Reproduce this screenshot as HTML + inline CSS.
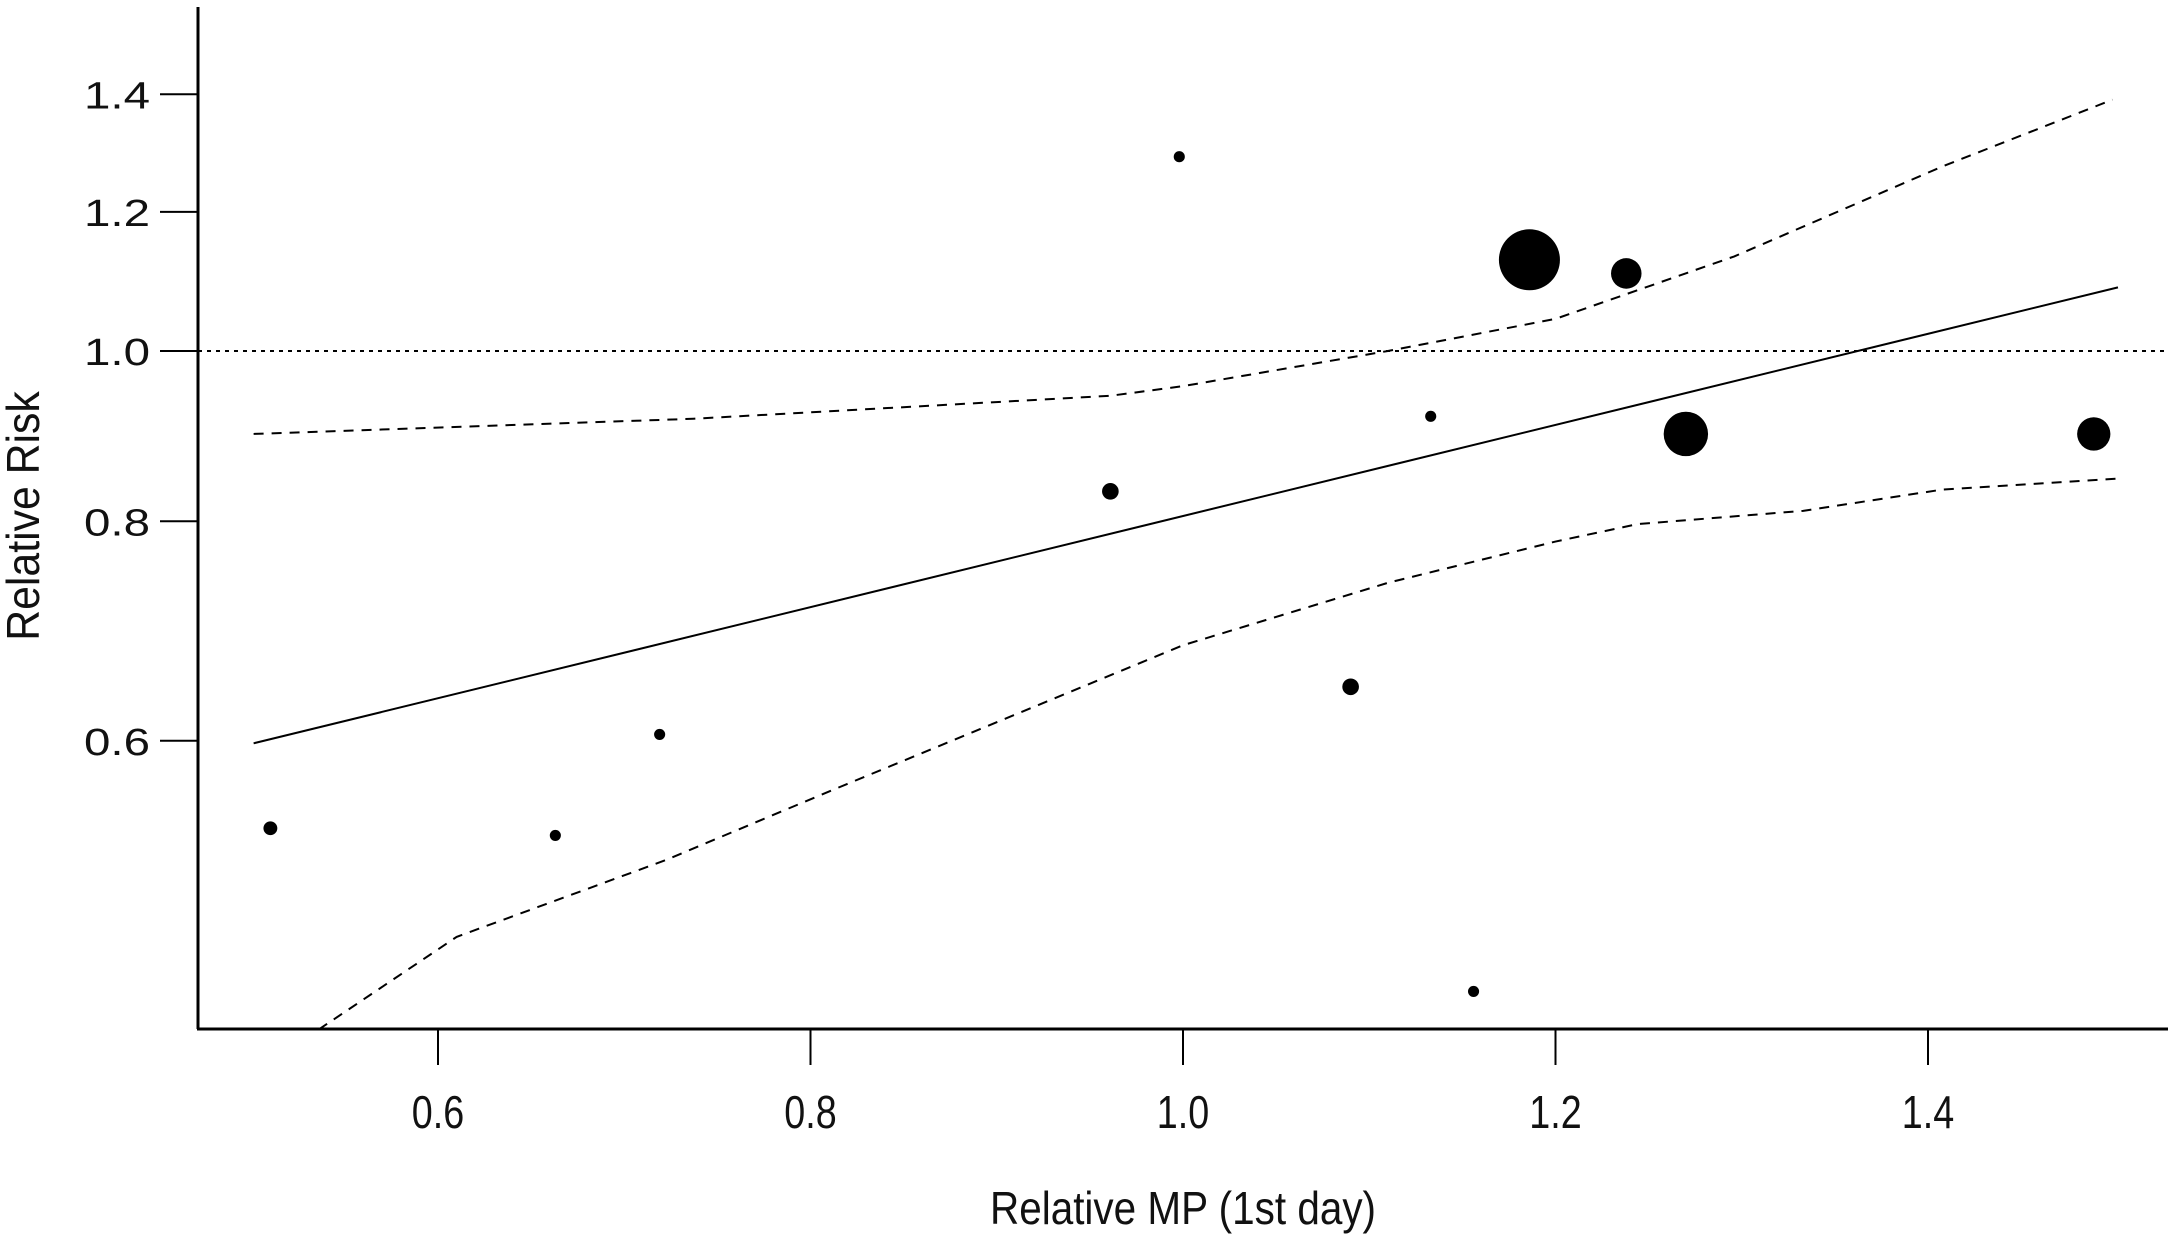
<!DOCTYPE html>
<html><head><meta charset="utf-8"><style>
html,body{margin:0;padding:0;background:#fff;}
svg{display:block;font-family:"Liberation Sans",Arial,sans-serif;}
</style></head><body>
<svg id="chart" width="2175" height="1234" viewBox="0 0 2175 1234">
<g id="axes"></g><g id="marks"></g>
<text x="0" y="0" font-size="46" text-anchor="middle" fill="#111" transform="translate(1183,1224) scale(0.88,1)">Relative MP (1st day)</text>
<text x="0" y="0" font-size="46" text-anchor="middle" fill="#111" transform="translate(39,516) rotate(-90) scale(0.93,1)">Relative Risk</text>
</svg>
<script>
const xTicks=[0.6,0.8,1.0,1.2,1.4];
const xTickLabels=["0.6","0.8","1.0","1.2","1.4"];
const yTicks=[0.6,0.8,1.0,1.2,1.4];
const yTickLabels=["0.6","0.8","1.0","1.2","1.4"];
const pointX=[0.510,0.663,0.719,0.961,0.998,1.090,1.133,1.156,1.186,1.238,1.270,1.489];
const pointY=[0.535,0.530,0.605,0.832,1.290,0.644,0.918,0.432,1.127,1.107,0.897,0.897];
const pointSize=[5,4,4,6,4,6,4,4,22,11,16,12];
const fitX=[0.501,1.502];
const fitY=[0.598,1.087];
const upperX=[0.501,0.737,0.961,1.000,1.110,1.200,1.296,1.408,1.499];
const upperY=[0.897,0.915,0.943,0.955,1.0,1.043,1.132,1.274,1.390];
const lowerX=[0.536,0.610,0.722,0.811,1.000,1.110,1.200,1.244,1.333,1.408,1.502];
const lowerY=[0.411,0.464,0.513,0.562,0.680,0.738,0.779,0.797,0.811,0.834,0.846];
const refY=[1.0];

const NS="http://www.w3.org/2000/svg";
const L=198,R=2168,T=7,B=1029;
function sx(v){return 1183+(v-1)*1862.5;}
function sy(v){return 351-Math.log(v)*763;}
function mk(tag,attrs,parent){const e=document.createElementNS(NS,tag);for(const k in attrs)e.setAttribute(k,attrs[k]);parent.appendChild(e);return e;}
const axes=document.getElementById('axes'),marks=document.getElementById('marks');
let e=mk('line',{x1:L,y1:T,x2:L,y2:B,stroke:'#000','stroke-width':3},axes);


e=mk('line',{x1:L-1,y1:B,x2:R,y2:B,stroke:'#000','stroke-width':3},axes);


xTicks.forEach((v,i)=>{
 const t=mk('line',{x1:sx(v),y1:B,x2:sx(v),y2:B+36,stroke:'#000','stroke-width':2},axes);
 
 
 const tx=mk('text',{x:0,y:0,'font-size':46,'text-anchor':'middle',fill:'#111',transform:`translate(${sx(v)},1128) scale(0.82,1)`},axes);
 tx.textContent=xTickLabels[i];
 
 
});
yTicks.forEach((v,i)=>{
 const t=mk('line',{x1:L-38,y1:sy(v),x2:L,y2:sy(v),stroke:'#000','stroke-width':2},axes);
 
 
 const tx=mk('text',{x:0,y:0,'font-size':38,'text-anchor':'end',fill:'#111',transform:`translate(150,${sy(v)+14}) scale(1.25,1)`},axes);
 tx.textContent=yTickLabels[i];
 
 
});
e=mk('line',{x1:L,y1:sy(refY[0]),x2:R,y2:sy(refY[0]),stroke:'#000','stroke-width':2,'stroke-dasharray':'4 5'},marks);


function poly(xs,ys){return xs.map((x,i)=>sx(x)+','+sy(ys[i])).join(' ');}
e=mk('polyline',{points:poly(fitX,fitY),fill:'none',stroke:'#000','stroke-width':2},marks);


e=mk('polyline',{points:poly(upperX,upperY),fill:'none',stroke:'#000','stroke-width':2,'stroke-dasharray':'10 8'},marks);


e=mk('polyline',{points:poly(lowerX,lowerY),fill:'none',stroke:'#000','stroke-width':2,'stroke-dasharray':'10 8'},marks);


pointX.forEach((v,i)=>{
 const c=mk('circle',{cx:sx(v),cy:sy(pointY[i]),r:pointSize[i]*1.387,fill:'#000'},marks);
 
 
});
</script>
</body></html>
